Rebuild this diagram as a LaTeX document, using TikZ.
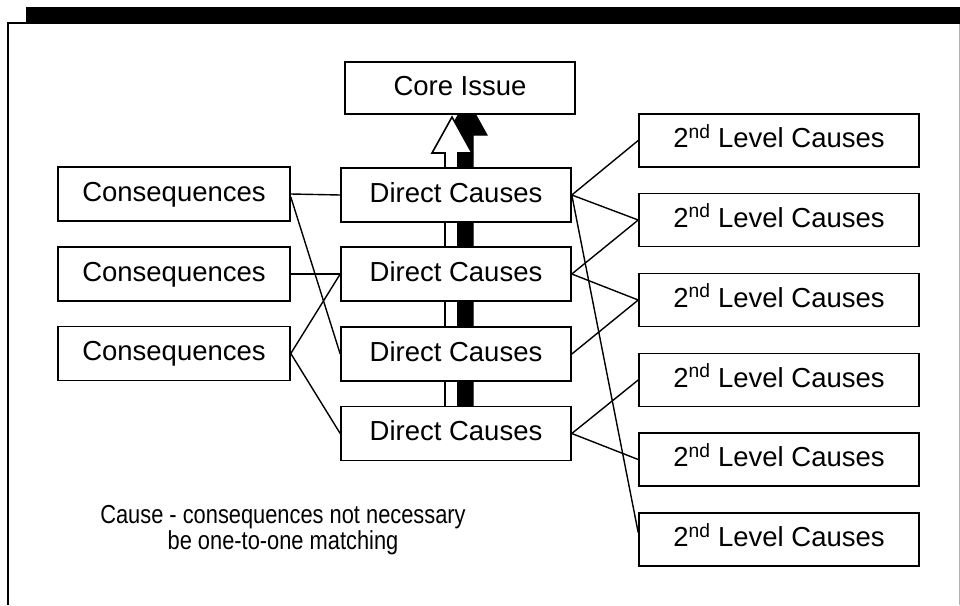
\documentclass[tikz,border=0pt]{standalone}
\usepackage{fontspec}
\setmainfont{Liberation Sans}
\newfontfamily\notefont[FakeStretch=0.84]{Liberation Sans}
\begin{document}
\begin{tikzpicture}[x=1pt,y=-1pt,
  box/.style={draw=black,line width=1.6pt,fill=white,inner sep=0pt,
     text height=20pt,text depth=6pt,
     font=\fontsize{27.5}{32}\selectfont},
  cbox/.style={box,minimum width=232pt,minimum height=54pt},
  dbox/.style={box,minimum width=230pt,minimum height=54pt},
  lbox/.style={box,minimum width=280pt,minimum height=53pt},
  link/.style={draw=black,line width=1.4pt},
  note/.style={font=\notefont\fontsize{26}{26}\selectfont,align=center,inner sep=0pt}]
\useasboundingbox (0,0) rectangle (960,605);
% frame
\fill[black] (26,7) rectangle (960,24);
\draw[line width=2pt] (8,605) -- (8,23) -- (26,23);
\draw[line width=1pt,gray!60] (959,24) -- (959,605);
% arrows (drawn behind the boxes)
\filldraw[black,line width=1pt] (457,407) -- (457,135) -- (447,135) -- (467,99)
   -- (487,135) -- (473,135) -- (473,407) -- cycle;
\filldraw[fill=white,draw=black,line width=1.6pt] (445,407) -- (445,153) -- (432,153)
   -- (452,117) -- (472,153) -- (458,153) -- (458,407) -- cycle;
% nodes
\node[box,minimum width=230pt,minimum height=52pt] (core) at (460,88) {Core Issue};
\node[dbox] (d1) at (456,195) {Direct Causes};
\node[dbox] (d2) at (456,274) {Direct Causes};
\node[dbox] (d3) at (456,354) {Direct Causes};
\node[dbox] (d4) at (456,433.5) {Direct Causes};
\node[cbox] (c1) at (174,194) {Consequences};
\node[cbox] (c2) at (174,274) {Consequences};
\node[cbox] (c3) at (174,353.5) {Consequences};
\node[lbox] (l1) at (779,140.5) {2\textsuperscript{nd} Level Causes};
\node[lbox] (l2) at (779,220) {2\textsuperscript{nd} Level Causes};
\node[lbox] (l3) at (779,300) {2\textsuperscript{nd} Level Causes};
\node[lbox] (l4) at (779,380) {2\textsuperscript{nd} Level Causes};
\node[lbox] (l5) at (779,459.5) {2\textsuperscript{nd} Level Causes};
\node[lbox] (l6) at (779,539.5) {2\textsuperscript{nd} Level Causes};
\coordinate (l6in) at ([yshift=7pt]l6.west);
% connectors
\draw[link] (c1.east) -- (d1.west);
\draw[link] ([yshift=-3pt]c1.east) -- (d3.west);
\draw[link] (c2.east) -- (d2.west);
\draw[link] (c3.east) -- (d2.west);
\draw[link] (c3.east) -- (d4.west);
\draw[link] (d1.east) -- (l1.west);
\draw[link] (d1.east) -- (l2.west);
\draw[link] (d1.east) -- (l6in);
\draw[link] (d2.east) -- (l2.west);
\draw[link] (d2.east) -- (l3.west);
\draw[link] (d3.east) -- (l3.west);
\draw[link] (d4.east) -- (l4.west);
\draw[link] (d4.east) -- (l5.west);
% note
\node[note] (n1) at (283,517) {Cause - consequences not necessary};
\node[note] (n2) at (283,543) {be one-to-one matching};
\end{tikzpicture}
\end{document}
